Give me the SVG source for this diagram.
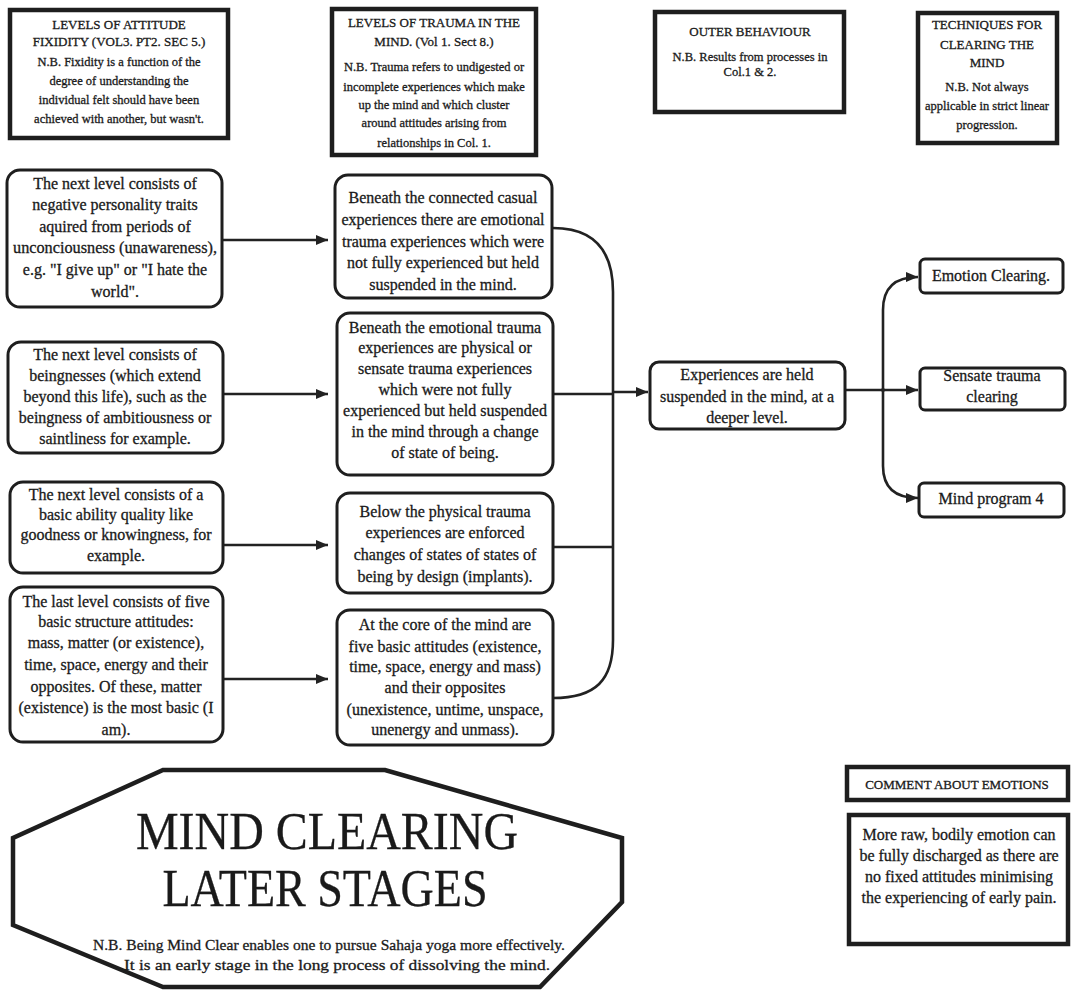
<svg xmlns="http://www.w3.org/2000/svg" width="1072" height="990" viewBox="0 0 1072 990">
<defs>
<style>
text{font-family:"Liberation Serif","Times New Roman",serif;fill:#1a1a1a;text-anchor:middle;stroke:#1a1a1a;stroke-width:0.3}
.b{font-size:16px}
.h{font-size:13px}
.n{font-size:12.5px}
.hdr{fill:#fff;stroke:#1e1e1e;stroke-width:4.5}
.box{fill:#fff;stroke:#1e1e1e;stroke-width:3}
.c{fill:none;stroke:#222;stroke-width:2.6}
</style>
<marker id="ah" viewBox="0 0 12 10" refX="12" refY="5" markerWidth="12" markerHeight="10" orient="auto" markerUnits="userSpaceOnUse"><path d="M0,0 L12,5 L0,10 z" fill="#222"/></marker>
</defs>
<rect width="1072" height="990" fill="#fff"/>

<g id="hdr1">
<rect class="hdr" x="10" y="10" width="218" height="128"/>
<text class="h" x="119" y="29">LEVELS OF ATTITUDE</text>
<text class="h" x="119" y="46">FIXIDITY (VOL3. PT2. SEC 5.)</text>
<text class="n" x="119" y="66">N.B. Fixidity is a function of the</text>
<text class="n" x="119" y="85">degree of understanding the</text>
<text class="n" x="119" y="104">individual felt should have been</text>
<text class="n" x="119" y="123">achieved with another, but wasn't.</text>
</g>
<g id="hdr2">
<rect class="hdr" x="332" y="9" width="204" height="146"/>
<text class="h" x="434" y="27">LEVELS OF TRAUMA IN THE</text>
<text class="h" x="434" y="46">MIND. (Vol 1. Sect 8.)</text>
<text class="n" x="434" y="71">N.B. Trauma refers to undigested or</text>
<text class="n" x="434" y="91">incomplete experiences which make</text>
<text class="n" x="434" y="109">up the mind and which cluster</text>
<text class="n" x="434" y="127">around attitudes arising from</text>
<text class="n" x="434" y="147">relationships in Col. 1.</text>
</g>
<g id="hdr3">
<rect class="hdr" x="655" y="12" width="189" height="100"/>
<text class="h" x="750" y="36">OUTER BEHAVIOUR</text>
<text class="n" x="750" y="61">N.B. Results from processes in</text>
<text class="n" x="750" y="76">Col.1 &amp; 2.</text>
</g>
<g id="hdr4">
<rect class="hdr" x="918" y="13" width="139" height="130"/>
<text class="h" x="987" y="29">TECHNIQUES FOR</text>
<text class="h" x="987" y="49">CLEARING THE</text>
<text class="h" x="987" y="67">MIND</text>
<text class="n" x="987" y="91">N.B. Not always</text>
<text class="n" x="987" y="110">applicable in strict linear</text>
<text class="n" x="987" y="129">progression.</text>
</g>

<g id="connectors">
<path class="c" d="M223,240 L328,240" marker-end="url(#ah)"/>
<path class="c" d="M223,394 L328,394" marker-end="url(#ah)"/>
<path class="c" d="M223,545 L328,545" marker-end="url(#ah)"/>
<path class="c" d="M223,679 L328,679" marker-end="url(#ah)"/>
<path class="c" d="M553,228 C596,228 613,252 613,292 L613,640 C613,680 596,698 553,698"/>
<path class="c" d="M553,394 L613,394"/>
<path class="c" d="M553,547 L613,547"/>
<path class="c" d="M613,392 L648,392" marker-end="url(#ah)"/>
<path class="c" d="M845,390 L918,390" marker-end="url(#ah)"/>
<path class="c" d="M883,392 L883,310 Q883,277 918,277" marker-end="url(#ah)"/>
<path class="c" d="M883,388 L883,466 Q883,498 918,498" marker-end="url(#ah)"/>
</g>

<g id="L1">
<rect class="box" x="7" y="170" width="215" height="137" rx="13"/>
<text class="b" x="115" y="189">The next level consists of</text>
<text class="b" x="115" y="210">negative personality traits</text>
<text class="b" x="115" y="232">aquired from periods of</text>
<text class="b" x="115" y="253" textLength="204" lengthAdjust="spacingAndGlyphs">unconciousness (unawareness),</text>
<text class="b" x="115" y="275">e.g. "I give up" or "I hate the</text>
<text class="b" x="115" y="297">world".</text>
</g>
<g id="L2">
<rect class="box" x="8" y="342" width="215" height="111" rx="13"/>
<text class="b" x="115" y="360">The next level consists of</text>
<text class="b" x="115" y="381">beingnesses (which extend</text>
<text class="b" x="115" y="402">beyond this life), such as the</text>
<text class="b" x="115" y="423">beingness of ambitiousness or</text>
<text class="b" x="115" y="444">saintliness for example.</text>
</g>
<g id="L3">
<rect class="box" x="10" y="482" width="213" height="91" rx="13"/>
<text class="b" x="116" y="500">The next level consists of a</text>
<text class="b" x="116" y="520">basic ability quality like</text>
<text class="b" x="116" y="540">goodness or knowingness, for</text>
<text class="b" x="116" y="561">example.</text>
</g>
<g id="L4">
<rect class="box" x="10" y="587" width="213" height="155" rx="13"/>
<text class="b" x="116" y="607">The last level consists of five</text>
<text class="b" x="116" y="627">basic structure attitudes:</text>
<text class="b" x="116" y="648">mass, matter (or existence),</text>
<text class="b" x="116" y="670">time, space, energy and their</text>
<text class="b" x="116" y="692">opposites. Of these, matter</text>
<text class="b" x="116" y="713">(existence) is the most basic (I</text>
<text class="b" x="116" y="735">am).</text>
</g>

<g id="M1">
<rect class="box" x="335" y="175" width="217" height="123" rx="13"/>
<text class="b" x="443" y="203">Beneath the connected casual</text>
<text class="b" x="443" y="225">experiences there are emotional</text>
<text class="b" x="443" y="247">trauma experiences which were</text>
<text class="b" x="443" y="268">not fully experienced but held</text>
<text class="b" x="443" y="290">suspended in the mind.</text>
</g>
<g id="M2">
<rect class="box" x="337" y="313" width="216" height="162" rx="13"/>
<text class="b" x="445" y="333">Beneath the emotional trauma</text>
<text class="b" x="445" y="353">experiences are physical or</text>
<text class="b" x="445" y="374">sensate trauma experiences</text>
<text class="b" x="445" y="395">which were not fully</text>
<text class="b" x="445" y="416">experienced but held suspended</text>
<text class="b" x="445" y="437">in the mind through a change</text>
<text class="b" x="445" y="458">of state of being.</text>
</g>
<g id="M3">
<rect class="box" x="337" y="493" width="216" height="100" rx="13"/>
<text class="b" x="445" y="517">Below the physical trauma</text>
<text class="b" x="445" y="538">experiences are enforced</text>
<text class="b" x="445" y="560">changes of states of states of</text>
<text class="b" x="445" y="582">being by design (implants).</text>
</g>
<g id="M4">
<rect class="box" x="337" y="610" width="216" height="135" rx="13"/>
<text class="b" x="445" y="630">At the core of the mind are</text>
<text class="b" x="445" y="652">five basic attitudes (existence,</text>
<text class="b" x="445" y="672">time, space, energy and mass)</text>
<text class="b" x="445" y="693">and their opposites</text>
<text class="b" x="445" y="715">(unexistence, untime, unspace,</text>
<text class="b" x="445" y="735">unenergy and unmass).</text>
</g>

<g id="exp">
<rect class="box" x="650" y="362" width="195" height="67" rx="9"/>
<text class="b" x="747" y="380">Experiences are held</text>
<text class="b" x="747" y="402">suspended in the mind, at a</text>
<text class="b" x="747" y="423">deeper level.</text>
</g>
<g id="t1">
<rect class="box" x="920" y="259" width="143" height="34" rx="5"/>
<text class="b" x="991" y="281">Emotion Clearing.</text>
</g>
<g id="t2">
<rect class="box" x="920" y="368" width="145" height="42" rx="5"/>
<text class="b" x="992" y="381">Sensate trauma</text>
<text class="b" x="992" y="402">clearing</text>
</g>
<g id="t3">
<rect class="box" x="919" y="483" width="145" height="34" rx="5"/>
<text class="b" x="991" y="504">Mind program 4</text>
</g>

<g id="octagon">
<polygon points="163,770 385,770 622,838 622,902 540,987 163,987 13,925 13,838" fill="#fff" stroke="#1e1e1e" stroke-width="4.5" stroke-linejoin="miter"/>
<text x="327" y="849" font-size="52" textLength="382" lengthAdjust="spacingAndGlyphs">MIND CLEARING</text>
<text x="325" y="906" font-size="52" textLength="325" lengthAdjust="spacingAndGlyphs">LATER STAGES</text>
<text x="329" y="950" font-size="15.5" textLength="472" lengthAdjust="spacingAndGlyphs">N.B. Being Mind Clear enables one to pursue Sahaja yoga more effectively.</text>
<text x="337" y="970" font-size="15.5" textLength="426" lengthAdjust="spacingAndGlyphs">It is an early stage in the long process of dissolving the mind.</text>
</g>

<g id="comment-hdr">
<rect class="hdr" x="847" y="767" width="221" height="33"/>
<text x="957" y="789" font-size="13">COMMENT ABOUT EMOTIONS</text>
</g>
<g id="comment">
<rect class="hdr" x="849" y="815" width="219" height="129"/>
<text class="b" x="959" y="840">More raw, bodily emotion can</text>
<text class="b" x="959" y="861">be fully discharged as there are</text>
<text class="b" x="959" y="882">no fixed attitudes minimising</text>
<text class="b" x="959" y="903">the experiencing of early pain.</text>
</g>
</svg>
